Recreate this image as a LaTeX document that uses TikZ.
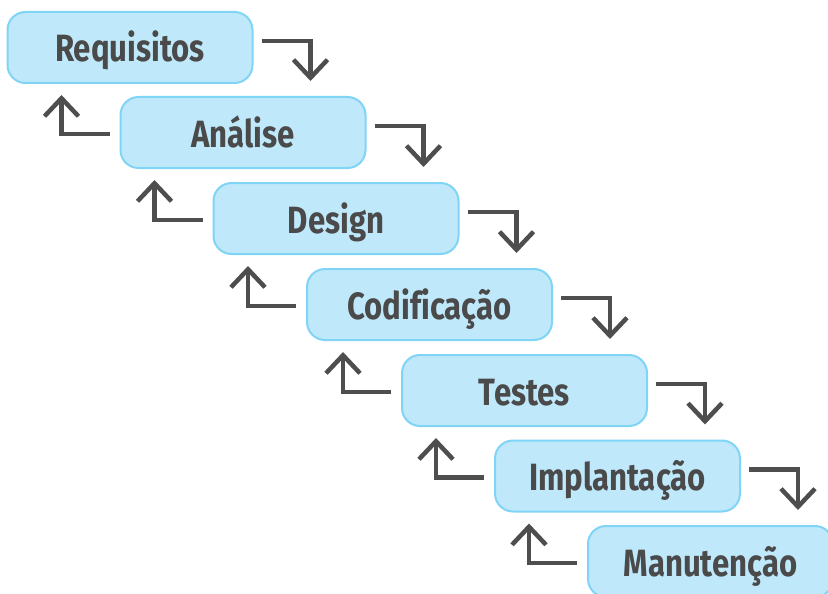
\documentclass[tikz,border=0pt]{standalone}
\usepackage{fontspec}
\setmainfont{Fira Sans}[FakeStretch=0.82,Ligatures=NoCommon]
\usetikzlibrary{arrows.meta,calc}
\definecolor{boxfill}{HTML}{BFE9FB}
\definecolor{boxline}{HTML}{80D4F5}
\definecolor{txt}{HTML}{4A4A4A}
\definecolor{arr}{HTML}{4E4E4E}
\tikzset{
  phase/.style={draw=boxline, fill=boxfill, line width=2pt, rounded corners=18pt,
    minimum width=245pt, minimum height=71pt, inner sep=0pt,
    text height=36pt, text depth=7pt, text=txt,
    font=\fontsize{38}{40}\selectfont\bfseries},
  fwd/.style={draw=arr, line width=4.5pt, line join=miter,
    -{Straight Barb[length=18pt,width=34pt,line width=4.5pt]}},
  back/.style={fwd}
}
\begin{document}
\begin{tikzpicture}[x=1pt,y=1pt]
\useasboundingbox (0,0) rectangle (828,-594);
\node[phase] (r) at (130,-47.5) {Requisitos};
\node[phase] (a) at (243,-132.5) {Análise};
\node[phase] (d) at (336,-218.5) {Design};
\node[phase] (c) at (429.5,-304.5) {Codificação};
\node[phase] (t) at (524.5,-390.5) {Testes};
\node[phase] (i) at (617.5,-476) {Implantação};
\node[phase] (m) at (710.5,-561.5) {Manutenção};
% forward arrows
\foreach \p/\q in {r/a,a/d,d/c,c/t,t/i,i/m}{
  \draw[fwd] ($(\p.east)+(8pt,6.5pt)$) -| ($(\p.east |- \q.north)+(57pt,15pt)$);
}
% backward arrows
\foreach \p/\q in {r/a,a/d,d/c,c/t,t/i,i/m}{
  \draw[back] ($(\q.west)+(-10pt,-1.5pt)$) -| ($(\q.west |- \p.south)+(-58pt,-11pt)$);
}
\end{tikzpicture}
\end{document}
